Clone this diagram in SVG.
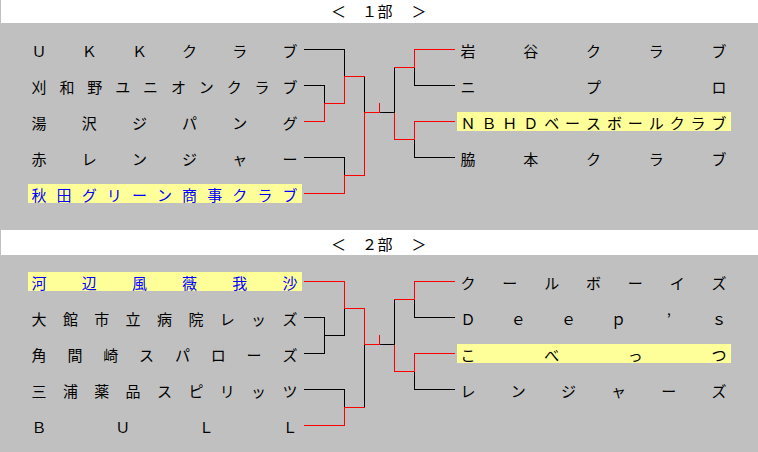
<svg xmlns="http://www.w3.org/2000/svg" width="758" height="452" viewBox="0 0 758 452">
<style>
text{font-family:"Noto Sans CJK JP","Noto Sans CJK SC",sans-serif;font-size:15px;fill:#000;text-anchor:middle}
text.win{fill:#0000ff}
.hl{fill:#ffff99}
.hdr{fill:#fff}
#connectors path{fill:none;stroke-width:1;shape-rendering:crispEdges}
.b{stroke:#000}
.r{stroke:#ff0000}
</style>
<rect width="758" height="452" fill="#c0c0c0"/>
<g id="header1">
<rect class="hdr" x="1" y="0" width="757" height="23"/>
<text y="17"><tspan x="338.5">＜</tspan><tspan x="369.5">１</tspan><tspan x="385">部</tspan><tspan x="419">＞</tspan></text>
</g>
<g id="header2">
<rect class="hdr" x="1" y="230" width="757" height="25"/>
<text y="250"><tspan x="338.5">＜</tspan><tspan x="369.5">２</tspan><tspan x="385">部</tspan><tspan x="419">＞</tspan></text>
</g>

<g id="connectors">
<!-- section 1 black -->
<path class="b" d="M304 49.5H344.5V76.5M304 85.5H324.5V103.5M304 157.5H344.5V175.5M364.5 76.5V112.5M380 112.5H394.5M394.5 67.5V112.5M414.5 67.5V85.5H455M414.5 139.5V157.5H455"/>
<!-- section 1 red -->
<path class="r" d="M304 121.5H324.5V103.5M324 103.5H344.5V76.5H364.5M304 193.5H344.5V175.5H364.5V112.5H380M379.5 103V113M394.5 112.5V139.5H414.5M394 67.5H414.5M414.5 67.5V49.5H455M414.5 139.5V121.5H455"/>
<!-- section 2 black -->
<path class="b" d="M304 317.5H324.5V353.5H304M324.5 335.5H344.5V308.5M304 389.5H344.5V407.5M364.5 344.5V407.5M380 344.5H394.5V299.5M414.5 299.5V317.5H455M414.5 371.5V389.5H455"/>
<!-- section 2 red -->
<path class="r" d="M304 281.5H344.5V308.5H364.5V344.5H380M304 425.5H344.5V407.5H364.5M379.5 335V345M394.5 344.5V371.5H414.5M394 299.5H414.5M414.5 299.5V281.5H455M414.5 371.5V353.5H455"/>
</g>

<!-- section 1 left -->
<g id="t1-ukk"><text x="39 89.2 139.4 189.6 239.8 290" y="57">ＵＫＫクラブ</text></g>
<g id="t1-kariwano"><text x="39 66.9 94.8 122.7 150.6 178.4 206.3 234.2 262.1 290" y="93">刈和野ユニオンクラブ</text></g>
<g id="t1-yuzawa"><text x="39 89.2 139.4 189.6 239.8 290" y="129">湯沢ジパング</text></g>
<g id="t1-akaranger"><text x="39 89.2 139.4 189.6 239.8 290" y="165">赤レンジャー</text></g>
<g id="t1-akitagreen"><rect class="hl" x="28" y="184" width="274" height="19"/><text class="win" x="39 64.1 89.2 114.3 139.4 164.5 189.6 214.7 239.8 264.9 290" y="201">秋田グリーン商事クラブ</text></g>
<!-- section 1 right -->
<g id="t1-iwaya"><text x="468 530.75 593.5 656.25 719" y="57">岩谷クラブ</text></g>
<g id="t1-nipro"><text x="468 593.5 719" y="93">ニプロ</text></g>
<g id="t1-nbhd"><rect class="hl" x="457" y="112" width="274" height="19"/><text x="468 488.9 509.8 530.75 551.7 572.6 593.5 614.4 635.3 656.25 677.2 698.1 719" y="129">ＮＢＨＤベースボールクラブ</text></g>
<g id="t1-wakimoto"><text x="468 530.75 593.5 656.25 719" y="165">脇本クラブ</text></g>

<!-- section 2 left -->
<g id="t2-kawabe"><rect class="hl" x="28" y="272" width="274" height="19"/><text class="win" x="39 89.2 139.4 189.6 239.8 290" y="289">河辺風薇我沙</text></g>
<g id="t2-odate"><text x="39 70.4 101.8 133.1 164.5 195.9 227.3 258.6 290" y="325">大館市立病院レッズ</text></g>
<g id="t2-kamamazaki"><text x="39 74.9 110.7 146.6 182.4 218.3 254.1 290" y="361">角間崎スパローズ</text></g>
<g id="t2-miura"><text x="39 70.4 101.8 133.1 164.5 195.9 227.3 258.6 290" y="397">三浦薬品スピリッツ</text></g>
<g id="t2-bull"><text x="39 122.7 206.3 290" y="433">ＢＵＬＬ</text></g>
<!-- section 2 right -->
<g id="t2-coolboys"><text x="468 509.8 551.7 593.5 635.3 677.2 719" y="289">クールボーイズ</text></g>
<g id="t2-deeps"><text x="468 518.2 568.4 618.6 668.8 719" y="325">Ｄｅｅｐ’ｓ</text></g>
<g id="t2-kobettsu"><rect class="hl" x="457" y="344" width="274" height="19"/><text x="468 551.7 635.3 719" y="361">こべっつ</text></g>
<g id="t2-rangers"><text x="468 518.2 568.4 618.6 668.8 719" y="397">レンジャーズ</text></g>
</svg>
